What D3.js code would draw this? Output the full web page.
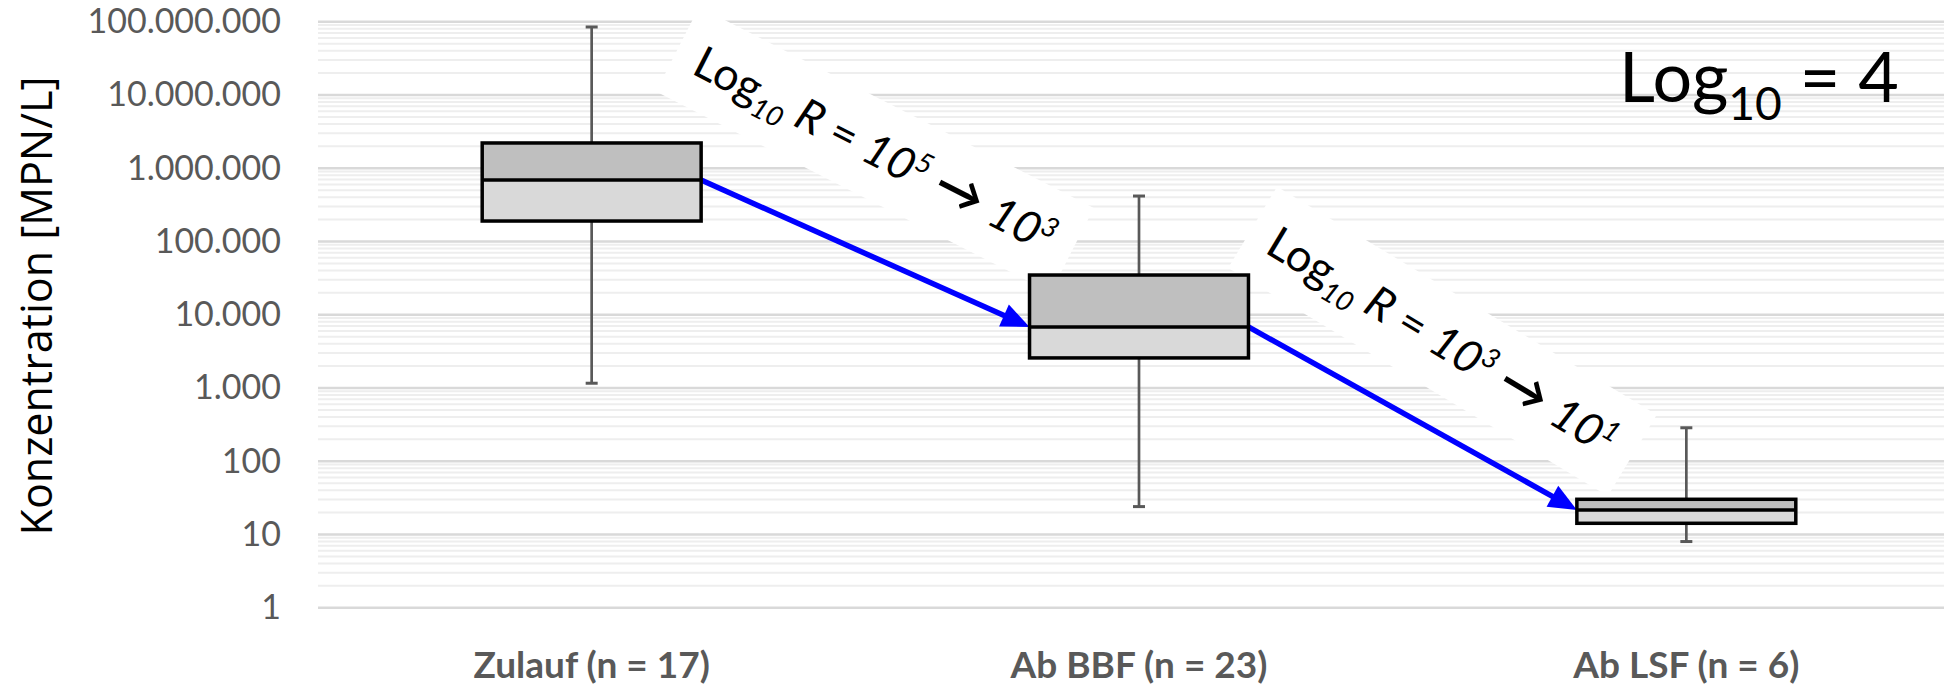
<!DOCTYPE html>
<html>
<head>
<meta charset="utf-8">
<script src="https://cdn.jsdelivr.net/npm/d3@7"></script>
<style>
  html, body { margin: 0; padding: 0; background: #fff; }
  svg { display: block; }
</style>
</head>
<body>
<div id="chart"></div>
<script>
// values (MPN/L)
const categories = ['Zulauf (n = 17)', 'Ab BBF (n = 23)', 'Ab LSF (n = 6)'];
const whiskerLow = [1160, 24, 8];
const q1 = [190000, 2570, 14.2];
const median = [690000, 6800, 21.6];
const q3 = [2210000, 34800, 30.2];
const whiskerHigh = [84700000, 417000, 286];
const yTickValues = [1, 10, 100, 1e3, 1e4, 1e5, 1e6, 1e7, 1e8];
const reductionFrom = [5, 3];
const reductionTo = [3, 1];
const totalLog = 4;

const width = 1944;
const height = 688;
const labelFont = 'Lato, Carlito, Calibri, sans-serif';

const locale = d3.formatLocale({ decimal: ',', thousands: '.', grouping: [3], currency: ['', ' €'] });
const fmt = locale.format(',d');

const svg = d3.select('#chart').append('svg')
  .attr('width', width)
  .attr('height', height);

const x = d3.scaleBand()
  .domain(categories)
  .range([318, 1960])
  .paddingInner(0.6)
  .paddingOuter(0.3);

const y = d3.scaleLog()
  .domain([1, 1e8])
  .range([607.7, 21.7]);

const cx = i => x(categories[i]) + x.bandwidth() / 2;

// gridlines (minor first, then decades)
const grid = svg.append('g');
grid.selectAll('line.minor')
  .data(y.ticks().filter(v => !Number.isInteger(Math.log10(v))))
  .join('line')
    .attr('class', 'minor')
    .attr('x1', x.range()[0])
    .attr('x2', width)
    .attr('y1', d => y(d))
    .attr('y2', d => y(d))
    .attr('stroke', '#eeeeee')
    .attr('stroke-width', 2);
grid.selectAll('line.major')
  .data(yTickValues)
  .join('line')
    .attr('class', 'major')
    .attr('x1', x.range()[0])
    .attr('x2', width)
    .attr('y1', d => y(d))
    .attr('y2', d => y(d))
    .attr('stroke', '#d9d9d9')
    .attr('stroke-width', 2.5);

// y axis labels
const yAxis = svg.append('g')
  .attr('transform', 'translate(318,0)')
  .call(d3.axisLeft(y).tickValues(yTickValues).tickFormat(fmt).tickSize(0).tickPadding(37));
yAxis.select('.domain').remove();
yAxis.selectAll('text')
  .attr('font-family', labelFont)
  .attr('font-size', 34)
  .attr('fill', '#595959');

svg.append('text')
  .attr('transform', 'translate(52,306) rotate(-90)')
  .attr('text-anchor', 'middle')
  .attr('font-family', '"Open Sans", sans-serif')
  .attr('font-size', 43)
  .attr('fill', '#000')
  .text('Konzentration [MPN/L]');

// x axis labels
const xAxis = svg.append('g')
  .attr('transform', 'translate(0,678)')
  .call(d3.axisBottom(x).tickSize(0).tickPadding(0));
xAxis.select('.domain').remove();
xAxis.selectAll('text')
  .attr('dy', 0)
  .attr('font-family', labelFont)
  .attr('font-weight', 'bold')
  .attr('font-size', 37)
  .attr('fill', '#595959');

// annotation boxes (white) drawn under the boxes and arrows
const annotations = svg.append('g');
const arrows = svg.append('g');
const boxes = svg.append('g');

const idx = d3.range(categories.length);
const bw = x.bandwidth();
const capW = 12;

// whiskers
boxes.selectAll('g.whisker')
  .data(idx)
  .join('g')
    .attr('class', 'whisker')
    .attr('stroke', '#595959')
    .attr('stroke-width', 2.7)
    .each(function (i) {
      const g = d3.select(this);
      g.append('line').attr('x1', cx(i)).attr('x2', cx(i)).attr('y1', y(q3[i])).attr('y2', y(whiskerHigh[i]));
      g.append('line').attr('x1', cx(i)).attr('x2', cx(i)).attr('y1', y(q1[i])).attr('y2', y(whiskerLow[i]));
      g.append('line').attr('x1', cx(i) - capW / 2).attr('x2', cx(i) + capW / 2).attr('y1', y(whiskerHigh[i])).attr('y2', y(whiskerHigh[i])).attr('stroke-width', 3);
      g.append('line').attr('x1', cx(i) - capW / 2).attr('x2', cx(i) + capW / 2).attr('y1', y(whiskerLow[i])).attr('y2', y(whiskerLow[i])).attr('stroke-width', 3);
    });

boxes.selectAll('rect.upper')
  .data(idx)
  .join('rect')
    .attr('x', i => x(categories[i]))
    .attr('y', i => y(q3[i]))
    .attr('width', bw)
    .attr('height', i => y(median[i]) - y(q3[i]))
    .attr('fill', '#bfbfbf');

boxes.selectAll('rect.lower')
  .data(idx)
  .join('rect')
    .attr('x', i => x(categories[i]))
    .attr('y', i => y(median[i]))
    .attr('width', bw)
    .attr('height', i => y(q1[i]) - y(median[i]))
    .attr('fill', '#d9d9d9');

boxes.selectAll('rect.outline')
  .data(idx)
  .join('rect')
    .attr('x', i => x(categories[i]))
    .attr('y', i => y(q3[i]))
    .attr('width', bw)
    .attr('height', i => y(q1[i]) - y(q3[i]))
    .attr('fill', 'none')
    .attr('stroke', '#000')
    .attr('stroke-width', 3.5);

boxes.selectAll('line.median')
  .data(idx)
  .join('line')
    .attr('x1', i => x(categories[i]))
    .attr('x2', i => x(categories[i]) + bw)
    .attr('y1', i => y(median[i]))
    .attr('y2', i => y(median[i]))
    .attr('stroke', '#000')
    .attr('stroke-width', 3.5);

// arrows from median to median
const headLen = 28, headHalf = 12;
[0, 1].forEach(i => {
  const x0 = x(categories[i]) + bw, y0 = y(median[i]);
  const x1 = x(categories[i + 1]), y1 = y(median[i + 1]);
  const len = Math.hypot(x1 - x0, y1 - y0);
  const ux = (x1 - x0) / len, uy = (y1 - y0) / len;
  const bx = x1 - ux * headLen, by = y1 - uy * headLen;
  arrows.append('line')
    .attr('x1', x0).attr('y1', y0)
    .attr('x2', bx + ux * 2).attr('y2', by + uy * 2)
    .attr('stroke', '#0000ff')
    .attr('stroke-width', 5.5);
  arrows.append('path')
    .attr('d', `M${x1},${y1}L${bx - uy * headHalf},${by + ux * headHalf}L${bx + uy * headHalf},${by - ux * headHalf}Z`)
    .attr('fill', '#0000ff');
});

// rotated reduction labels
const annoLayout = [
  { dx: -11, dy: -107, angle: 27 },
  { dx: 15, dy: -75, angle: 31 }
];
const annoSize = 45;

function addParts(text, parts, size) {
  let prev = 0;
  parts.forEach(p => {
    const s = (p.s || 1) * size;
    const sh = (p.sh || 0) * size;
    text.append('tspan')
      .attr('font-size', s)
      .attr('font-style', p.it ? 'italic' : 'normal')
      .attr('font-weight', p.b ? 'bold' : 'normal')
      .attr('dy', sh - prev)
      .text(p.t);
    prev = sh;
  });
}

[0, 1].forEach(i => {
  const L = annoLayout[i];
  const ax = x(categories[i]) + bw + L.dx;
  const ay = y(median[i]) + L.dy;
  const g = annotations.append('g')
    .attr('transform', `translate(${ax},${ay}) rotate(${L.angle})`);
  const bg = g.append('rect').attr('fill', '#fff');
  const t = g.append('text')
    .attr('font-family', labelFont)
    .attr('fill', '#000')
    .attr('xml:space', 'preserve');
  addParts(t, [
    { t: 'Log' },
    { t: '10', s: 0.62, sh: 0.22, it: true },
    { t: ' ' },
    { t: 'R', it: true },
    { t: ' = ' },
    { t: '10', it: true },
    { t: String(reductionFrom[i]), s: 0.62, sh: -0.36, it: true },
    { t: ' ' },
    { t: '\u2192', b: true, s: 1.1 },
    { t: ' ' },
    { t: '10', it: true },
    { t: String(reductionTo[i]), s: 0.62, sh: -0.36, it: true }
  ], annoSize);
  const b = t.node().getBBox();
  bg.attr('x', b.x - 22).attr('y', b.y - 14).attr('width', b.width + 44).attr('height', b.height + 30);
});

// total reduction
const total = svg.append('text')
  .attr('x', 1619)
  .attr('y', 102)
  .attr('font-family', labelFont)
  .attr('fill', '#000')
  .attr('xml:space', 'preserve');
addParts(total, [
  { t: 'Log' },
  { t: '10', s: 0.66, sh: 0.25 },
  { t: ' = ' + totalLog }
], 70);
</script>
</body>
</html>
